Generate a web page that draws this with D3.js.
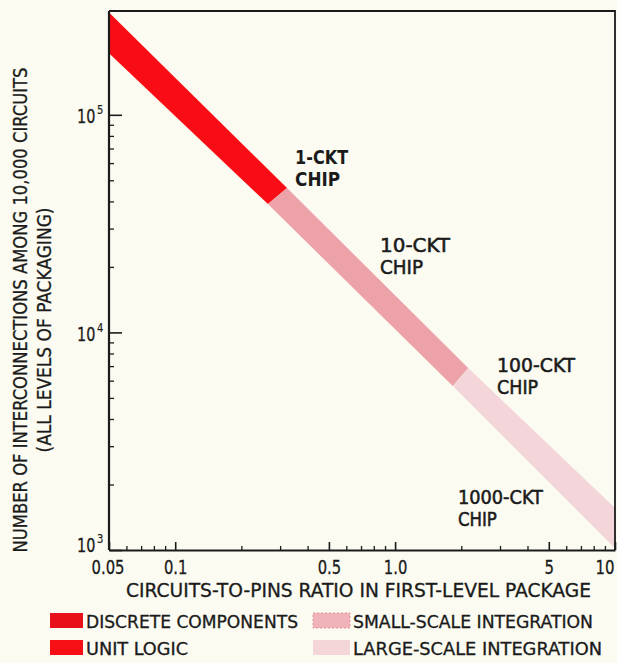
<!DOCTYPE html>
<html>
<head>
<meta charset="utf-8">
<script src="https://cdn.jsdelivr.net/npm/d3@7"></script>
<style>
  html, body { margin: 0; padding: 0; background: #fbfbf2; }
  svg { display: block; }
  text { font-family: "DejaVu Sans Condensed", "Liberation Sans Narrow", "Roboto Condensed", "Liberation Sans", sans-serif; fill: #1b1b1b; }
</style>
</head>
<body>
<svg id="chart" width="617" height="663"></svg>
<script>
// ---------------- data ----------------
const segmentNames   = ["UNIT LOGIC", "SMALL-SCALE INTEGRATION", "LARGE-SCALE INTEGRATION"];
// band edge breakpoints (circuits-to-pins ratio, interconnections)
const upperEdgeRatio = [0.05, 0.3225, 2.15, 10];
const upperEdgeN     = [2.95e5, 4.61e4, 6.86e3, 1.56e3];
const lowerEdgeRatio = [0.05, 0.264, 1.83, 10];
const lowerEdgeN     = [1.92e5, 3.89e4, 5.67e3, 1.02e3];

const xTickValues = [0.05, 0.1, 0.5, 1, 5, 10];
const xTickLabels = ["0.05", "0.1", "0.5", "1.0", "5", "10"];
const xMinorTicks = [0.06, 0.07, 0.08, 0.09, 0.2, 0.3, 0.4, 0.6, 0.7, 0.8, 0.9, 2, 3, 4, 6, 7, 8, 9];
const yTickValues = [1e3, 1e4, 1e5];
const yTickExponents = ["3", "4", "5"];
const yMinorTicks = [2e3, 3e3, 4e3, 5e3, 6e3, 7e3, 8e3, 9e3, 2e4, 3e4, 4e4, 5e4, 6e4, 7e4, 8e4, 9e4];

const chipLabels = ["1-CKT", "10-CKT", "100-CKT", "1000-CKT"];
const chipRatio  = [0.351, 0.854, 2.91, 1.93];
const chipN      = [5.88e4, 2.32e4, 6.51e3, 1.61e3];

const legendLabels = ["DISCRETE COMPONENTS", "UNIT LOGIC", "SMALL-SCALE INTEGRATION", "LARGE-SCALE INTEGRATION"];

const xTitle = "CIRCUITS-TO-PINS RATIO IN FIRST-LEVEL PACKAGE";
const yTitle1 = "NUMBER OF INTERCONNECTIONS AMONG 10,000 CIRCUITS";
const yTitle2 = "(ALL LEVELS OF PACKAGING)";

// ---------------- layout / style ----------------
const segColors = ["#f80d12", "#eda1a8", "#f4d6da"];
const legendColors = ["#e8111a", "#f60f14", "#f0b3ba", "#f4d5d8"];
const ink = "#1b1b1b";
const weight = 0.3;

const svg = d3.select("#chart");
svg.append("rect").attr("width", 617).attr("height", 663).attr("fill", "#fbfbf2");

const x = d3.scaleLog().domain([0.05, 10]).range([109, 615]);
const y = d3.scaleLog().domain([1e3, 3e5]).range([550, 11]);

const defs = svg.append("defs");
defs.append("clipPath").attr("id", "plotclip")
  .append("rect").attr("x", 109).attr("y", 11).attr("width", 506).attr("height", 539);
defs.append("filter").attr("id", "soft")
  .append("feGaussianBlur").attr("stdDeviation", 0.6);

// band segments
const bandG = svg.append("g").attr("clip-path", "url(#plotclip)");
segmentNames.forEach((name, i) => {
  const pts = [
    [x(upperEdgeRatio[i]), y(upperEdgeN[i])],
    [x(upperEdgeRatio[i + 1]), y(upperEdgeN[i + 1])],
    [x(lowerEdgeRatio[i + 1]), y(lowerEdgeN[i + 1])],
    [x(lowerEdgeRatio[i]), y(lowerEdgeN[i])]
  ];
  bandG.append("path")
    .attr("d", d3.line()(pts) + "Z")
    .attr("fill", segColors[i])
    .attr("filter", "url(#soft)");
});

// axes
const axG = svg.append("g").attr("transform", "translate(0,550)");
const bottomMajor = d3.axisBottom(x).tickValues(xTickValues).tickSizeInner(-8).tickSizeOuter(0)
  .tickPadding(10).tickFormat((d, i) => xTickLabels[i]);
axG.call(bottomMajor);
axG.select(".domain").attr("stroke", ink).attr("stroke-width", 2.2);
axG.selectAll(".tick line").attr("stroke", ink).attr("stroke-width", 1.6);
const digitW = { ".": 4.5 };
const lastIdx = xTickLabels.length - 1;
axG.selectAll(".tick text")
  .attr("font-size", 20).attr("fill", ink).attr("font-family", null)
  .attr("stroke", ink).attr("stroke-width", weight)
  .attr("textLength", (d, i) => xTickLabels[i].split("").reduce((s, c) => s + (digitW[c] || 9.5), 0))
  .attr("lengthAdjust", "spacingAndGlyphs")
  .attr("text-anchor", (d, i) => i === lastIdx ? "start" : "middle")
  .attr("x", (d, i) => i === lastIdx ? -20 : (i === 0 ? -1.5 : 0));

const axGm = svg.append("g").attr("transform", "translate(0,550)");
axGm.call(d3.axisBottom(x).tickValues(xMinorTicks).tickSizeInner(-4).tickSizeOuter(0).tickFormat(""));
axGm.select(".domain").remove();
axGm.selectAll(".tick text").remove();
axGm.selectAll(".tick line").attr("stroke", ink).attr("stroke-width", 1.3);

const ayG = svg.append("g").attr("transform", "translate(109,0)");
ayG.call(d3.axisLeft(y).tickValues(yTickValues).tickSizeInner(-13).tickSizeOuter(0).tickFormat(""));
ayG.selectAll(".tick text").remove();
ayG.select(".domain").attr("stroke", ink).attr("stroke-width", 2.2)
  .attr("d", `M0,${y(3e5)}V${y(1e3)}`);
ayG.selectAll(".tick line").attr("stroke", ink).attr("stroke-width", 1.6);
ayG.selectAll(".tick").each(function (d, i) {
  const base = i === 0 ? 1 : 8;   // lowest label sits a little higher, clear of "0.05"
  const g = d3.select(this);
  g.append("text")
    .attr("transform", `translate(-32,${base}) scale(0.8,1)`)
    .attr("text-anchor", "start")
    .attr("font-size", 20).attr("fill", ink)
    .attr("stroke", ink).attr("stroke-width", weight)
    .text("10");
  g.append("text")
    .attr("transform", `translate(-12,${base - 9}) scale(0.85,1)`)
    .attr("text-anchor", "start")
    .attr("font-size", 13).attr("fill", ink)
    .attr("stroke", ink).attr("stroke-width", 0.2)
    .text(yTickExponents[i]);
});
const ayGm = svg.append("g").attr("transform", "translate(109,0)");
ayGm.call(d3.axisLeft(y).tickValues(yMinorTicks).tickSizeInner(-5).tickSizeOuter(0).tickFormat(""));
ayGm.select(".domain").remove();
ayGm.selectAll(".tick text").remove();
ayGm.selectAll(".tick line").attr("stroke", ink).attr("stroke-width", 1.3);

// frame (top and right)
svg.append("path")
  .attr("d", `M${x(0.05)},${y(3e5)}H${x(10)}V${y(1e3)}`)
  .attr("fill", "none").attr("stroke", ink).attr("stroke-width", 1.8);

// chip labels (two lines each)
const chipW = [53, 70, 78, 85];
const chipCHIPW = [45, 43, 41, 39];
chipLabels.forEach((lab, i) => {
  const bold = i === 0 ? "bold" : "normal";
  const sw = i === 0 ? 0 : 0.5;
  const g = svg.append("g").attr("transform", `translate(${x(chipRatio[i])},${y(chipN[i])})`);
  g.append("text").text(lab).attr("y", -1)
    .attr("font-size", 19).attr("font-weight", bold)
    .attr("stroke", ink).attr("stroke-width", sw)
    .attr("textLength", chipW[i]).attr("lengthAdjust", "spacingAndGlyphs");
  g.append("text").text("CHIP").attr("y", 21)
    .attr("font-size", 19).attr("font-weight", bold)
    .attr("stroke", ink).attr("stroke-width", sw)
    .attr("textLength", chipCHIPW[i]).attr("lengthAdjust", "spacingAndGlyphs");
});

// axis titles
svg.append("text").text(xTitle)
  .attr("x", 126).attr("y", 597).attr("font-size", 19.5)
  .attr("stroke", ink).attr("stroke-width", weight)
  .attr("textLength", 465).attr("lengthAdjust", "spacingAndGlyphs");

svg.append("text").text(yTitle1)
  .attr("transform", "translate(27,310) rotate(-90)")
  .attr("text-anchor", "middle").attr("font-size", 19.5)
  .attr("stroke", ink).attr("stroke-width", weight)
  .attr("textLength", 485).attr("lengthAdjust", "spacingAndGlyphs");
svg.append("text").text(yTitle2)
  .attr("transform", "translate(51,330) rotate(-90)")
  .attr("text-anchor", "middle").attr("font-size", 19.5)
  .attr("stroke", ink).attr("stroke-width", weight)
  .attr("textLength", 245).attr("lengthAdjust", "spacingAndGlyphs");

// legend
const legX = [50, 50, 313, 313];
const legY = [613, 640, 613, 640];
const legW = [33, 33, 37, 37];
const legTextW = [212, 102, 240, 249];
legendLabels.forEach((lab, i) => {
  svg.append("rect").attr("x", legX[i]).attr("y", legY[i]).attr("width", legW[i]).attr("height", 15)
    .attr("fill", legendColors[i])
    .attr("stroke", i === 2 ? "#e58f99" : "none").attr("stroke-dasharray", i === 2 ? "2,2" : null)
    .attr("stroke-width", 1);
  svg.append("text").text(lab)
    .attr("x", legX[i] + legW[i] + 3).attr("y", legY[i] + 14.5)
    .attr("font-size", 17.5)
    .attr("stroke", ink).attr("stroke-width", weight)
    .attr("textLength", legTextW[i]).attr("lengthAdjust", "spacingAndGlyphs");
});
</script>
</body>
</html>
